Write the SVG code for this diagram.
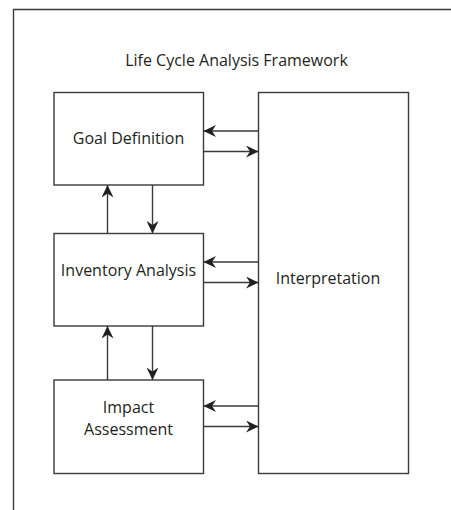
<svg xmlns="http://www.w3.org/2000/svg" width="451" height="510" viewBox="0 0 451 510">
<style>
.box{fill:#fff;stroke:#3a3a3a;stroke-width:1.4}
.lbl{font-family:"Open Sans","Liberation Sans",sans-serif;font-size:16px;fill:#231f20;text-anchor:middle}
.con{stroke:#3a3a3a;stroke-width:1.4;fill:none;marker-end:url(#ah)}
</style>
<defs>
<marker id="ah" markerUnits="userSpaceOnUse" markerWidth="14" markerHeight="12" refX="12.5" refY="6" orient="auto">
<path d="M0,0 L12.5,6 L0,12 L4,6 Z" fill="#231f20"/>
</marker>
</defs>
<rect width="451" height="510" fill="#fff"/>
<path d="M13.5,510 V9.5 H451" fill="none" stroke="#3a3a3a" stroke-width="1.4"/>
<text class="lbl" x="236.5" y="66">Life Cycle Analysis Framework</text>
<g id="goal"><rect class="box" x="54" y="92.5" width="149.5" height="92.5"/><text class="lbl" x="128.5" y="143.5">Goal Definition</text></g>
<g id="inventory"><rect class="box" x="54" y="233.5" width="149.5" height="92.5"/><text class="lbl" x="128.5" y="275.5">Inventory Analysis</text></g>
<g id="impact"><rect class="box" x="54" y="380" width="149.5" height="93.5"/><text class="lbl" x="128.5" y="412.5">Impact</text><text class="lbl" x="128.5" y="434.5">Assessment</text></g>
<g id="interpretation"><rect class="box" x="258.5" y="92.5" width="150" height="381"/><text class="lbl" x="328" y="283.5">Interpretation</text></g>
<g id="connectors">
<line class="con" x1="258.5" y1="131" x2="203.5" y2="131"/>
<line class="con" x1="203.5" y1="151.5" x2="258.5" y2="151.5"/>
<line class="con" x1="258.5" y1="262" x2="203.5" y2="262"/>
<line class="con" x1="203.5" y1="282.5" x2="258.5" y2="282.5"/>
<line class="con" x1="258.5" y1="406" x2="203.5" y2="406"/>
<line class="con" x1="203.5" y1="426.5" x2="258.5" y2="426.5"/>
<line class="con" x1="107.5" y1="233.5" x2="107.5" y2="185"/>
<line class="con" x1="152.5" y1="185" x2="152.5" y2="233.5"/>
<line class="con" x1="107.5" y1="380" x2="107.5" y2="326"/>
<line class="con" x1="152.5" y1="326" x2="152.5" y2="380"/>
</g>
</svg>
